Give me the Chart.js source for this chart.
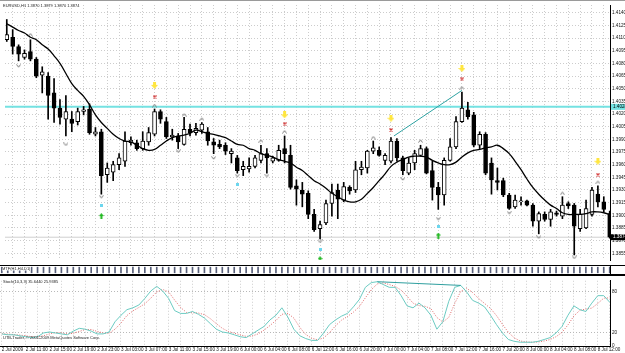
<!DOCTYPE html>
<html>
<head>
<meta charset="utf-8">
<script src="https://cdn.jsdelivr.net/npm/chart.js@4.4.1/dist/chart.umd.min.js"></script>
<style>
body{margin:0;background:#fff;}
#box{position:relative;width:625px;height:353px;overflow:hidden;background:#fff;}
.pane{position:absolute;left:0;width:625px;}
.t{position:absolute;font:8px "Liberation Sans",Arial,sans-serif;color:#222;white-space:nowrap;transform:scale(.5);transform-origin:0 0;}
.ln{position:absolute;left:0;width:625px;}
</style>
</head>
<body>
<div id="box">
<div class="pane" style="top:0;height:265px"><canvas id="main" width="625" height="265"></canvas></div>
<div class="pane" style="top:266px;height:8px"><canvas id="strip" width="625" height="8"></canvas></div>
<div class="pane" style="top:276px;height:77px"><canvas id="stoch" width="625" height="77"></canvas></div>
<div class="ln" style="top:0;height:1px;background:#9a9a9a"></div>
<div class="ln" style="top:265px;height:1px;background:#000"></div>
<div class="ln" style="top:274px;height:2px;background:#000"></div>
<div class="t" style="left:3px;top:3px">EURUSD,H1 1.3870 1.3879 1.3870 1.3874</div>
<div class="t" style="left:2px;top:266px;background:#fff">MTF(H1,H4,D1)</div>
<div class="t" style="left:3px;top:279px">Stoch(10,3,3) 35.6440 25.9385</div>
<div class="t" style="left:3px;top:335px">UTB-Trader, © 2001-2009 MetaQuotes Software Corp.</div>
</div>
<script>
// hourly bars, 2 Jul 2009 07:00 .. 8 Jul 2009
let xLabels = ["2 Jul 2009","2 Jul 11:00","2 Jul 15:00","2 Jul 19:00","2 Jul 23:00","3 Jul 03:00","3 Jul 07:00",
  "3 Jul 11:00","3 Jul 15:00","3 Jul 19:00","6 Jul 00:00","6 Jul 04:00","6 Jul 08:00","6 Jul 12:00","6 Jul 16:00",
  "6 Jul 20:00","7 Jul 00:00","7 Jul 04:00","7 Jul 08:00","7 Jul 12:00","7 Jul 16:00","7 Jul 20:00","8 Jul 00:00",
  "8 Jul 04:00","8 Jul 08:00","8 Jul 12:00"];
let priceTicks = [1.4140,1.4125,1.4110,1.4095,1.4080,1.4065,1.4050,1.4035,1.4020,1.4005,1.3990,1.3975,
  1.3960,1.3945,1.3930,1.3915,1.3900,1.3885,1.3870,1.3855];
let stochTicks = [0,20,80];

let opens = [1.4108,1.4111,1.4100,1.4087,1.4094,1.4085,1.4066,1.4065,1.4045,1.4027,
1.4014,1.4014,1.4011,1.4023,1.4026,1.3996,1.3999,1.3948,1.3951,1.3960,
1.3964,1.3986,1.3986,1.3979,1.3987,1.3996,1.4023,1.4011,1.3993,1.3994,
1.3984,1.4002,1.3998,1.4001,1.3999,1.3987,1.3984,1.3983,1.3973,1.3968,
1.3954,1.3955,1.3958,1.3965,1.3973,1.3964,1.3965,1.3979,1.3971,1.3935,
1.3930,1.3926,1.3901,1.3884,1.3891,1.3914,1.3930,1.3918,1.3933,1.3930,
1.3954,1.3956,1.3976,1.3977,1.3965,1.3964,1.3988,1.3968,1.3950,1.3962,
1.3971,1.3979,1.3953,1.3933,1.3924,1.3965,1.3981,1.4011,1.4025,1.4019,
1.3983,1.3996,1.3962,1.3941,1.3941,1.3924,1.3910,1.3916,1.3917,1.3912,
1.3893,1.3901,1.3895,1.3903,1.3899,1.3914,1.3912,1.3884,1.3885,1.3901,
1.3925,1.3916,1.3902];
let highs = [1.4132,1.4120,1.4102,1.4096,1.4108,1.4087,1.4076,1.4069,1.4062,1.4037,
1.4042,1.4023,1.4027,1.4029,1.4032,1.4004,1.4002,1.3962,1.3964,1.3973,
1.3999,1.3993,1.3989,1.3999,1.4004,1.4026,1.4025,1.4016,1.4002,1.3997,
1.4016,1.4008,1.4009,1.4010,1.4004,1.3991,1.3989,1.3986,1.3979,1.3971,
1.3964,1.3968,1.3971,1.3983,1.3979,1.3970,1.3983,1.3994,1.3983,1.3942,
1.3939,1.3929,1.3907,1.3893,1.3918,1.3937,1.3937,1.3939,1.3935,1.3964,
1.3964,1.3977,1.3988,1.3981,1.3973,1.3992,1.3991,1.3970,1.3968,1.3977,
1.3983,1.3981,1.3964,1.3939,1.3968,1.3991,1.4017,1.4046,1.4034,1.4022,
1.3999,1.3998,1.3968,1.3956,1.3944,1.3926,1.3924,1.3922,1.3918,1.3914,
1.3904,1.3904,1.3907,1.3905,1.3922,1.3916,1.3914,1.3907,1.3918,1.3933,
1.3935,1.3922,1.3905];
let lows = [1.4106,1.4091,1.4083,1.4085,1.4083,1.4063,1.4045,1.4014,1.4010,1.4008,
1.3994,1.3999,1.4007,1.4019,1.3996,1.3994,1.3925,1.3939,1.3941,1.3954,
1.3958,1.3983,1.3977,1.3977,1.3983,1.3994,1.4009,1.3991,1.3989,1.3979,
1.3983,1.3994,1.3995,1.3997,1.3983,1.3973,1.3979,1.3972,1.3962,1.3950,
1.3947,1.3951,1.3956,1.3962,1.3950,1.3962,1.3964,1.3962,1.3931,1.3912,
1.3910,1.3896,1.3881,1.3872,1.3889,1.3899,1.3896,1.3916,1.3925,1.3927,
1.3948,1.3950,1.3973,1.3970,1.3960,1.3962,1.3964,1.3948,1.3948,1.3954,
1.3970,1.3949,1.3918,1.3907,1.3912,1.3964,1.3979,1.4010,1.4014,1.3981,
1.3979,1.3948,1.3925,1.3930,1.3922,1.3907,1.3908,1.3912,1.3911,1.3887,
1.3878,1.3893,1.3887,1.3899,1.3896,1.3908,1.3853,1.3881,1.3884,1.3899,
1.3910,1.3904,1.3873];
let closes = [1.4114,1.4100,1.4091,1.4092,1.4085,1.4065,1.4070,1.4042,1.4027,1.4016,
1.4023,1.4009,1.4023,1.4025,1.3998,1.3999,1.3947,1.3956,1.3960,1.3968,
1.3988,1.3989,1.3979,1.3988,1.3998,1.4023,1.4014,1.3993,1.3995,1.3987,
1.4002,1.3998,1.4003,1.4008,1.3988,1.3983,1.3981,1.3976,1.3976,1.3953,
1.3958,1.3958,1.3968,1.3973,1.3968,1.3968,1.3977,1.3973,1.3933,1.3931,
1.3925,1.3901,1.3883,1.3889,1.3914,1.3927,1.3919,1.3934,1.3929,1.3954,
1.3957,1.3976,1.3980,1.3971,1.3971,1.3988,1.3968,1.3953,1.3962,1.3973,
1.3979,1.3950,1.3933,1.3924,1.3965,1.3981,1.4011,1.4027,1.4017,1.3983,
1.3996,1.3950,1.3942,1.3939,1.3924,1.3908,1.3918,1.3917,1.3912,1.3893,
1.3902,1.3895,1.3904,1.3901,1.3912,1.3911,1.3887,1.3901,1.3908,1.3930,
1.3916,1.3907,1.3874];
let maLine = [1.4127,1.4123,1.4119,1.4116,1.4111,1.4108,1.4102,1.4097,1.4089,1.4080,
1.4068,1.4056,1.4048,1.4041,1.4031,1.4019,1.4010,1.4003,1.3996,1.3991,
1.3988,1.3987,1.3983,1.3979,1.3977,1.3978,1.3983,1.3988,1.3992,1.3994,
1.3995,1.3997,1.4001,1.3999,1.3997,1.3996,1.3994,1.3992,1.3988,1.3984,
1.3983,1.3979,1.3977,1.3973,1.3971,1.3969,1.3966,1.3964,1.3962,1.3957,
1.3953,1.3947,1.3941,1.3937,1.3932,1.3926,1.3922,1.3918,1.3916,1.3916,
1.3919,1.3926,1.3933,1.3941,1.3949,1.3958,1.3963,1.3966,1.3969,1.3970,
1.3970,1.3969,1.3965,1.3962,1.3960,1.3960,1.3963,1.3969,1.3974,1.3977,
1.3978,1.3980,1.3981,1.3983,1.3979,1.3973,1.3964,1.3954,1.3943,1.3933,
1.3925,1.3918,1.3912,1.3908,1.3903,1.3901,1.3901,1.3901,1.3902,1.3904,
1.3904,1.3903,1.3901];
let stochMain = [17.7,16.4,16.4,15.0,13.6,12.3,13.6,19.1,20.5,19.1,
17.7,16.4,21.8,25.9,24.6,21.8,17.7,17.7,20.5,35.5,
45.0,53.2,55.9,60.0,69.6,80.5,87.3,80.5,69.6,51.8,
47.7,47.7,50.5,46.4,40.9,32.7,24.6,20.5,19.1,16.4,
13.6,12.3,17.7,23.2,28.6,38.2,45.0,55.9,42.3,24.6,
15.0,10.9,8.2,8.2,19.1,31.4,38.2,43.7,47.7,57.3,
68.2,85.9,92.8,94.1,90.0,85.9,85.9,73.7,58.7,55.9,
62.8,55.9,45.0,24.6,35.5,65.5,85.9,88.7,79.1,66.8,
62.8,57.3,45.0,31.4,19.1,9.5,6.8,5.5,5.5,5.5,
6.8,9.5,12.3,19.1,28.6,45.0,58.7,53.2,50.5,62.8,
73.7,73.7,64.1];
let stochSignal = [18,17.5,16.8,16,15,13.6,13.2,15,17.7,19.6,
19.1,17.7,18.6,21.3,24.1,24.1,21.4,19.1,18.6,24.6,
33.7,44.6,51.4,56.4,61.8,70,79.1,82.8,79.1,67.3,
56.4,49.1,48.6,48.2,45.9,40,32.7,25.9,21.4,18.7,
16.4,14.1,14.5,17.7,23.2,30,37.3,46.4,47.7,40.9,
27.3,16.8,11.4,9.1,11.8,19.6,29.6,37.8,43.2,49.6,
57.7,70.5,82.3,90.9,92.3,90,87.3,81.8,72.8,62.8,
59.1,58.2,54.6,41.8,35,41.9,62.3,80,84.6,78.2,
69.6,62.3,55,44.6,31.8,20,11.8,7.3,5.9,5.5,
5.9,7.3,9.5,13.6,20,30.9,44.1,52.3,54.1,55.5,
62.3,70,70.5];

// signal marks: [bar, price]
let fractalUp = [[4,1.4114],[25,1.4030],[30,1.4019],[33,1.4014],[43,1.3988],[47,1.3999],[62,1.3992],[70,1.3988],[77,1.4051],[94,1.3926],[100,1.3939]];
let fractalDown = [[2,1.4077],[10,1.3984],[16,1.3922],[29,1.3976],[35,1.3968],[39,1.3947],[44,1.3947],[53,1.3869],[67,1.3943],[73,1.3896],[85,1.3903],[90,1.3874],[96,1.3850]];
let yellowArrows = [[25,1.4054],[47,1.4019],[65,1.4015],[77,1.4074],[100,1.3964]];
let redCrosses = [[25,1.4040],[47,1.4008],[65,1.4001],[77,1.4061],[100,1.3948]];
let cyanDots = [[16,1.3912],[39,1.3937],[53,1.3860],[73,1.3887]];
let greenArrows = [[16,1.3899],[53,1.3848],[73,1.3876]];

let hLevel = 1.40285;
let priceTrend = [[65.5,1.3994],[77,1.4048]];
let stochTrend = [[63,94.1],[77,88.7]];

let xMin = -0.3, xMax = 102.05;
let gridBars = [];
for (let i = 0; i <= 102; i += 2) gridBars.push(i);

function glyph(w, h, draw){
    let c = document.createElement("canvas");
    c.width = w; c.height = h;
    draw(c.getContext("2d"));
    return c;
}
let upImg = glyph(5,4,function(g){
    g.strokeStyle = "#777"; g.lineWidth = 1;
    g.beginPath(); g.moveTo(0.5,3.5); g.lineTo(2.5,0.8); g.lineTo(4.5,3.5); g.stroke();
});
let downImg = glyph(5,4,function(g){
    g.strokeStyle = "#777"; g.lineWidth = 1;
    g.beginPath(); g.moveTo(0.5,0.5); g.lineTo(2.5,3.2); g.lineTo(4.5,0.5); g.stroke();
});
let yellowImg = glyph(7,7,function(g){
    g.fillStyle = "#ffe640";
    g.fillRect(2,0,3,3);
    g.beginPath(); g.moveTo(0,3); g.lineTo(7,3); g.lineTo(3.5,7); g.fill();
});
let redImg = glyph(4,4,function(g){
    g.strokeStyle = "#d23030"; g.lineWidth = 1.2;
    g.beginPath(); g.moveTo(0.5,0.5); g.lineTo(3.5,3.5); g.moveTo(3.5,0.5); g.lineTo(0.5,3.5); g.stroke();
});
let cyanImg = glyph(3,3,function(g){
    g.fillStyle = "#6cd6ee"; g.fillRect(0,0,3,3);
});
let greenImg = glyph(5,6,function(g){
    g.fillStyle = "#1fb81f";
    g.beginPath(); g.moveTo(0,3); g.lineTo(2.5,0); g.lineTo(5,3); g.fill();
    g.fillRect(1.5,3,2,3);
});

function pts(list){ return list.map(function(p){ return {x:p[0], y:p[1]}; }); }
function marks(list, img, ord){
    return {type:"scatter", data:pts(list), pointStyle:img, pointRadius:3, order:ord, showLine:false};
}

let fontSmall = {size:4.6, family:"Liberation Sans"};

let priceTags = {
    id:"priceTags",
    afterDraw: function(ch){
        let ctx = ch.ctx, ys = ch.scales.y, left = ch.chartArea.right + 1;
        ctx.save();
        ctx.font = "4.6px Liberation Sans";
        ctx.textBaseline = "middle";
        let py = ys.getPixelForValue(hLevel);
        ctx.fillStyle = "#74e2e2"; ctx.fillRect(left, py-3, 15, 6);
        ctx.fillStyle = "#000"; ctx.fillText(hLevel.toFixed(4), left+2, py);
        let last = closes[closes.length-1];
        let cy = ys.getPixelForValue(last);
        ctx.fillStyle = "#000"; ctx.fillRect(left, cy-3, 15, 6);
        ctx.fillStyle = "#fff"; ctx.fillText(last.toFixed(4), left+2, cy);
        ctx.restore();
    }
};

let candleWick = highs.map(function(h,i){ return {x:i, y:[lows[i], h]}; });
let candleBody = opens.map(function(o,i){ return {x:i, y:[o, closes[i]]}; });
let bodyFill = closes.map(function(c,i){ return c >= opens[i] ? "#ffffff" : "#000000"; });
let lastClose = closes[closes.length-1];

new Chart(document.getElementById("main"), {
    type:"bar",
    data:{
        datasets:[
            {type:"line", data:[{x:xMin,y:lastClose},{x:xMax,y:lastClose}], borderColor:"#cfcfcf", borderWidth:1, pointRadius:0, order:9},
            {type:"line", data:[{x:xMin,y:hLevel},{x:xMax,y:hLevel}], borderColor:"#74e2e2", borderWidth:2, pointRadius:0, order:8},
            {type:"bar", data:candleWick, backgroundColor:"#000", barThickness:1, grouped:false, order:5},
            {type:"bar", data:candleBody, backgroundColor:bodyFill, borderColor:"#000", borderWidth:1, borderSkipped:false, barThickness:4, grouped:false, order:4},
            {type:"line", data:maLine.map(function(v,i){ return {x:i, y:v}; }), borderColor:"#000", borderWidth:1.3, pointRadius:0, tension:0.4, order:3},
            {type:"line", data:pts(priceTrend), borderColor:"#2fa3a3", borderWidth:1, pointRadius:0, order:2},
            marks(fractalUp, upImg, 1),
            marks(fractalDown, downImg, 1),
            marks(yellowArrows, yellowImg, 0),
            marks(redCrosses, redImg, 0),
            marks(cyanDots, cyanImg, 0),
            marks(greenArrows, greenImg, 0)
        ]
    },
    options:{
        responsive:false, animation:false, devicePixelRatio:1,
        layout:{padding:{top:2, left:0, right:0, bottom:0}},
        plugins:{legend:{display:false}, tooltip:{enabled:false}},
        scales:{
            x:{type:"linear", min:xMin, max:xMax, offset:false,
                afterBuildTicks:function(ax){ ax.ticks = gridBars.map(function(v){ return {value:v}; }); },
                afterFit:function(ax){ ax.height = 0; },
                ticks:{display:false},
                grid:{color:"#cccccc", drawTicks:false},
                border:{display:false, dash:[1,2]}},
            y:{type:"linear", position:"right", min:1.3847, max:1.41492,
                afterBuildTicks:function(ax){ ax.ticks = priceTicks.map(function(v){ return {value:v}; }); },
                afterFit:function(ax){ ax.width = 15; },
                ticks:{font:fontSmall, color:"#111", padding:2, autoSkip:false,
                    callback:function(v){ return v.toFixed(4); }},
                grid:{color:"#cccccc", drawTicks:false},
                border:{display:true, color:"#000", dash:[1,2]}}
        }
    },
    plugins:[priceTags]
});

// thin indicator strip between the panes, one short bar per candle
new Chart(document.getElementById("strip"), {
    type:"bar",
    data:{datasets:[{data:closes.map(function(c,i){ return {x:i, y:[0.15,0.85]}; }),
        backgroundColor:"#59607a", barThickness:1, grouped:false}]},
    options:{
        responsive:false, animation:false, devicePixelRatio:1,
        layout:{padding:0},
        plugins:{legend:{display:false}, tooltip:{enabled:false}},
        scales:{
            x:{type:"linear", min:xMin, max:xMax, offset:false, display:false},
            y:{type:"linear", min:0, max:1, position:"right", afterFit:function(ax){ ax.width = 15; },
                ticks:{display:false}, grid:{display:false}, border:{display:true, color:"#000"}}
        }
    }
});

new Chart(document.getElementById("stoch"), {
    type:"line",
    data:{
        datasets:[
            {data:stochSignal.map(function(v,i){ return {x:i, y:v}; }), borderColor:"#e06a6a", borderWidth:1, borderDash:[1,1.5], pointRadius:0, order:2},
            {data:stochMain.map(function(v,i){ return {x:i, y:v}; }), borderColor:"#6ccbc2", borderWidth:1, pointRadius:0, order:1},
            {data:pts(stochTrend), borderColor:"#2f9f9f", borderWidth:1, pointRadius:0, order:0}
        ]
    },
    options:{
        responsive:false, animation:false, devicePixelRatio:1,
        layout:{padding:0},
        plugins:{legend:{display:false}, tooltip:{enabled:false}},
        scales:{
            x:{type:"linear", min:xMin, max:xMax, offset:false,
                afterBuildTicks:function(ax){ ax.ticks = gridBars.map(function(v){ return {value:v}; }); },
                afterFit:function(ax){ ax.height = 7; },
                ticks:{font:fontSmall, color:"#111", align:"start", maxRotation:0, autoSkip:false, padding:1,
                    callback:function(v){ return v % 4 === 0 ? xLabels[v/4] : ""; }},
                grid:{color:"#cccccc", drawTicks:false},
                border:{display:true, color:"#000", dash:[1,2]}},
            y:{type:"linear", position:"right", min:0, max:95.5,
                afterBuildTicks:function(ax){ ax.ticks = stochTicks.map(function(v){ return {value:v}; }); },
                afterFit:function(ax){ ax.width = 15; },
                ticks:{font:fontSmall, color:"#111", padding:2, autoSkip:false},
                grid:{color:function(c){ return c.tick && c.tick.value === 0 ? "rgba(0,0,0,0)" : "#b8b8b8"; }, drawTicks:false},
                border:{display:true, color:"#000", dash:[1,2]}}
        }
    }
});
</script>
</body>
</html>
